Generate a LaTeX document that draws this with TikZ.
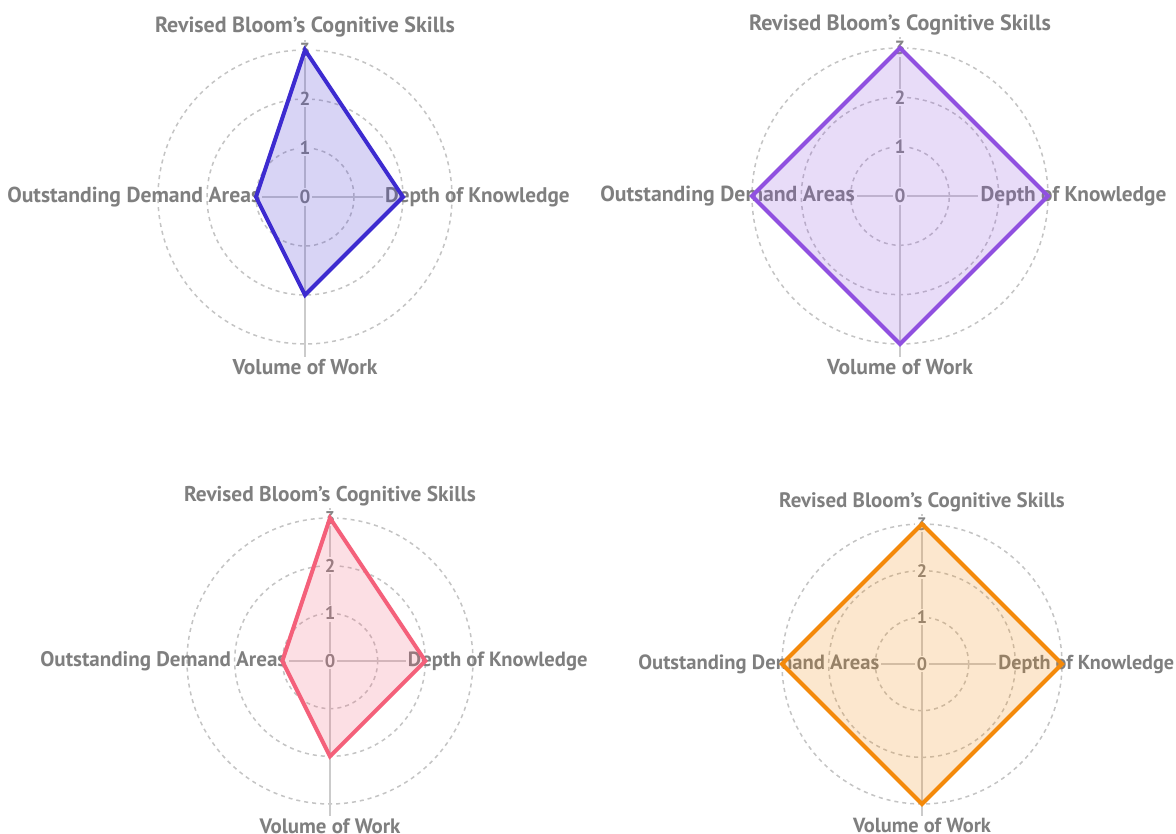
\documentclass[tikz,border=0pt]{standalone}
\usepackage{fontspec}
\usepackage{graphicx}
\setmainfont{PT Sans}
\begin{document}
\definecolor{labgray}{HTML}{7F7F7F}
\definecolor{tickgray}{HTML}{858585}
\definecolor{ringgray}{HTML}{C4C4C4}
\definecolor{axisgray}{HTML}{CBCBCB}
\definecolor{cBlue}{HTML}{3D2BD0}
\definecolor{cPurple}{HTML}{9050E0}
\definecolor{cPink}{HTML}{F4607A}
\definecolor{cOrange}{HTML}{F4890A}
% label text set bold and stretched to a given width (in pt)
\newcommand\fitlabel[2]{\resizebox{#1pt}{!}{\bfseries #2}}
% #1 name prefix, #2/#3 centre, #4 radius of value 3, #5 colour,
% #6..#9 values: top, right, bottom, left
\newcommand\radarchart[9]{%
  \begin{scope}[shift={(#2,#3)}]
    \pgfmathsetmacro\R{#4}
    \pgfmathsetmacro\u{#4/3}
    \pgfmathsetmacro\ts{19*#4/147}
    \pgfmathsetmacro\wtop{2.04*#4}
    \pgfmathsetmacro\wleft{1.72*#4}
    \pgfmathsetmacro\wright{1.255*#4}
    \pgfmathsetmacro\wbot{0.985*#4}
    % grid rings
    \foreach \k in {1,2,3}
      \draw[ring] (0,0) circle[radius=\k*\u pt];
    % point labels
    \node[lab] (#1-top) at (0,{-1.155*\R}) {\fitlabel{\wtop}{Revised Bloom{\char"0027}s Cognitive Skills}};
    \node[lab,anchor=east] (#1-left) at ({-0.29*\R},0) {\fitlabel{\wleft}{Outstanding Demand Areas}};
    \node[lab,anchor=west] (#1-right) at ({0.53*\R},0) {\fitlabel{\wright}{Depth of Knowledge}};
    \node[lab] (#1-bot) at (0,{1.155*\R}) {\fitlabel{\wbot}{Volume of Work}};
    % scale ticks
    \node[tick] (#1-t0) at (0,0) {0};
    \node[tick] (#1-t1) at (0,{-\u}) {1};
    \node[tick] (#1-t2) at (0,{-2*\u}) {2};
    \node[tick] (#1-t3) at (0,{-3*\u}) {3};
    % angle lines
    \draw[axis] (#1-t0) -- (#1-t1);
    \draw[axis] (#1-t1) -- (#1-t2);
    \draw[axis] (#1-t2) -- (#1-t3);
    \draw[axis] (#1-t3) -- (#1-top);
    \draw[axis] (#1-t0) -- (#1-bot);
    \draw[axis] (#1-t0) -- (#1-left);
    \draw[axis] (#1-t0) -- (#1-right);
    % data polygon
    \coordinate (#1-p1) at (0,{-#6*\u});
    \coordinate (#1-p2) at ({#7*\u},0);
    \coordinate (#1-p3) at (0,{#8*\u});
    \coordinate (#1-p4) at ({-#9*\u},0);
    \draw[poly=#5] (#1-p1) -- (#1-p2) -- (#1-p3) -- (#1-p4) -- cycle;
  \end{scope}}
\begin{tikzpicture}[x=1pt,y=-1pt,
    ring/.style={ringgray,line width=1.5pt,dash pattern=on 4pt off 4pt},
    axis/.style={axisgray,line width=1.6pt},
    lab/.style={text=labgray,font=\fontsize{20pt}{20pt}\selectfont,inner sep=2pt},
    tick/.style={text=tickgray,fill=white,font=\fontsize{\ts pt}{\ts pt}\selectfont\bfseries,inner sep=1.5pt},
    poly/.style={draw=#1,fill=#1,fill opacity=0.2,draw opacity=1,line width=4pt}]
  \useasboundingbox (0,0) rectangle (1176,834);
  \fill[white] (0,0) rectangle (1176,834);
  \radarchart{a}{305}{197}{147}{cBlue}{3}{2}{2}{1}
  \radarchart{b}{900}{196}{148}{cPurple}{3}{3}{3}{3}
  \radarchart{c}{330}{661}{143}{cPink}{3}{2}{2}{1}
  \radarchart{d}{922}{664}{140}{cOrange}{3}{3}{3}{3}
\end{tikzpicture}
\end{document}
